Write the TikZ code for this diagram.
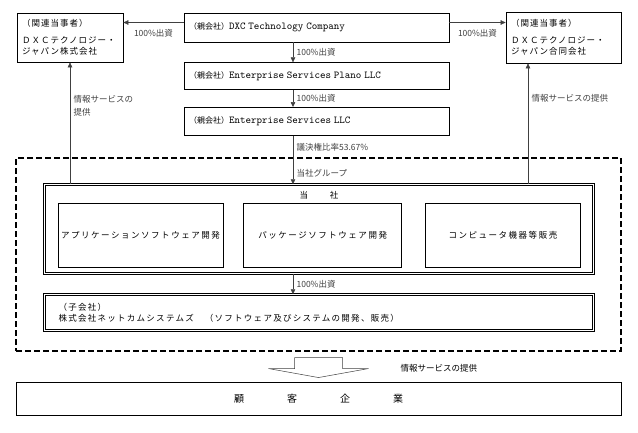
\documentclass[tikz,border=0pt]{standalone}
\usepackage{fontspec}
\setmainfont{Noto Sans CJK JP}
\setmonofont{Latin Modern Mono}
\usetikzlibrary{positioning,arrows.meta}
\newcommand\coname{\ttfamily\fontsize{10.5}{12}\selectfont}
\newcommand\oya{{\fontsize{8}{10}\selectfont （親会社）}}

\begin{document}
\begin{tikzpicture}[
  x=1pt, y=-1pt,
  font=\fontsize{8.5}{11}\selectfont,
  box/.style={draw, line width=0.7pt, inner sep=0pt, align=left},
  dbox/.style={draw, line width=0.5pt, double, double distance=1.6pt, inner sep=0pt},
  grpbox/.style={draw, line width=1.1pt, dash pattern=on 6pt off 3pt, inner sep=0pt},
  arr/.style={-{Triangle[length=5pt,width=4.5pt]}, line width=0.5pt, black!75},
  wide/.style={font=\fontsize{8.5}{11}\selectfont\addfontfeature{LetterSpace=12}},
  wider/.style={font=\fontsize{8.5}{11}\selectfont\addfontfeature{LetterSpace=18}}
]
\useasboundingbox (0,0) rectangle (638,432);

% parent companies
\node[box, inner xsep=5pt, text width=255pt, minimum height=29pt] (dxc) at (316.5,27.5) {\oya\coname DXC Technology Company};
\node[box, inner xsep=5pt, text width=255pt, minimum height=27pt, below=20pt of dxc] (plano) {\oya\coname Enterprise Services Plano LLC};
\node[box, inner xsep=5pt, text width=255pt, minimum height=28pt, below=17pt of plano] (esl) {\oya\coname Enterprise Services LLC};

% related parties
\node[box, wide, inner xsep=5pt, text width=96pt, minimum height=49pt] (relL) at (70,37.5) {（関連当事者）\\[6pt]ＤＸＣテクノロジー・\\ジャパン株式会社};
\node[box, wide, inner xsep=5pt, text width=105pt, minimum height=51pt] (relR) at (563.5,37.5) {（関連当事者）\\[6pt]ＤＸＣテクノロジー・\\ジャパン合同会社};

% group
\node[grpbox, minimum width=605pt, minimum height=193pt] (grp) at (318.5,254.5) {};
\node[dbox, minimum width=549pt, minimum height=89pt] (tosha) at (319,229) {};
\node[below=4pt of tosha.north] (toshaT) {当\hspace{22pt}社};
\node[box, wider, minimum width=165pt, minimum height=64pt] (app) at (140.5,235) {アプリケーションソフトウェア開発};
\node[box, wider, minimum width=158pt, minimum height=64pt, right=20pt of app] (pkg) {パッケージソフトウェア開発};
\node[box, wider, minimum width=155pt, minimum height=64pt, right=23pt of pkg] (comp) {コンピュータ機器等販売};
\node[dbox, inner xsep=14pt, text width=521pt, minimum height=36pt, align=left, font=\fontsize{8.5}{11}\selectfont\addfontfeature{LetterSpace=15}] (sub) at (319,312.5) {（子会社）\\株式会社ネットカムシステムズ　（ソフトウェア及びシステムの開発、販売）};

% customers
\node[box, minimum width=605pt, minimum height=33pt, align=center] (kky) at (318.5,398.5) {\fontsize{10}{12}\selectfont 顧\hspace{43pt}客\hspace{43pt}企\hspace{43pt}業};

% capital links
\coordinate (dl) at ([yshift=5pt]dxc.west);
\coordinate (dr) at ([yshift=5pt]dxc.east);
\draw[arr] (dl) -- node[below=3pt]{100\%出資} (relL.east |- dl);
\draw[arr] (dr) -- node[below=3pt]{100\%出資} (relR.west |- dr);

\coordinate (vx) at (293,0);
\draw[arr] (vx |- dxc.south) -- node[right]{100\%出資} (vx |- plano.north);
\draw[arr] (vx |- plano.south) -- node[right]{100\%出資} (vx |- esl.north);
\draw[arr] (vx |- esl.south) -- node[pos=.245, right]{議決権比率53.67\%} node[pos=.78, right]{当社グループ} (vx |- tosha.north);
\draw[arr] (vx |- tosha.south) -- node[right]{100\%出資} (vx |- sub.north);

% services
\coordinate (rv) at (528,0);
\draw[arr] (relL.south |- tosha.north) -- node[pos=.64, right, align=left]{情報サービスの\\[2pt]提供} (relL.south);
\draw[arr] (rv |- tosha.north) -- node[pos=.71, right]{情報サービスの提供} (rv |- relR.south);

\coordinate (ba) at ([yshift=-6pt]grp.south);
\draw[line width=0.5pt, black!75] (ba) ++(-24,0) -- ++(48,0) -- ++(0,11) -- ++(26,0) -- ++(-50,9) -- ++(-50,-9) -- ++(26,0) -- cycle;
\node[right] (infoB) at (397,368) {情報サービスの提供};
\end{tikzpicture}
\end{document}
